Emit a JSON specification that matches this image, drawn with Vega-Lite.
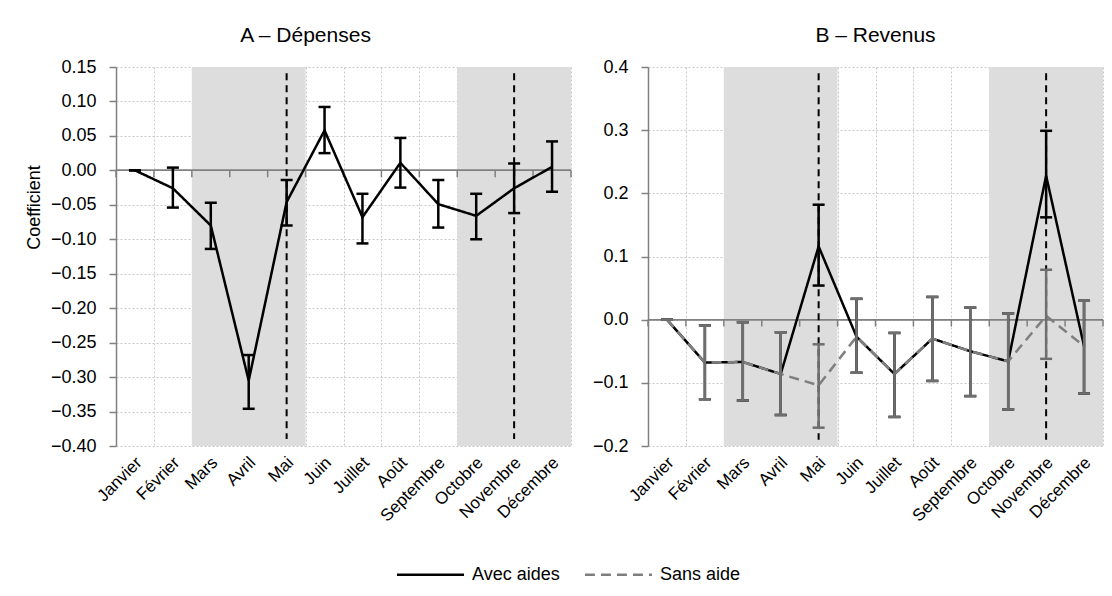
{
  "$schema": "https://vega.github.io/schema/vega-lite/v6.json",
  "padding": {"left": 25, "top": 25, "right": 0, "bottom": 0},
  "bounds": "flush",
  "spacing": 77,
  "config": {
    "font": "Liberation Sans",
    "view": {"stroke": null},
    "title": {"fontSize": 21, "fontWeight": "normal", "color": "#000", "frame": "group", "offset": 12}
  },
  "datasets": {
    "pts": [
      {"panel": "A", "m": 1, "series": "Avec aides", "v": 0, "lo": 0, "hi": 0},
      {"panel": "A", "m": 2, "series": "Avec aides", "v": -0.026, "lo": -0.054, "hi": 0.004},
      {"panel": "A", "m": 3, "series": "Avec aides", "v": -0.080, "lo": -0.114, "hi": -0.047},
      {"panel": "A", "m": 4, "series": "Avec aides", "v": -0.305, "lo": -0.346, "hi": -0.268},
      {"panel": "A", "m": 5, "series": "Avec aides", "v": -0.046, "lo": -0.080, "hi": -0.014},
      {"panel": "A", "m": 6, "series": "Avec aides", "v": 0.058, "lo": 0.025, "hi": 0.092},
      {"panel": "A", "m": 7, "series": "Avec aides", "v": -0.068, "lo": -0.106, "hi": -0.034},
      {"panel": "A", "m": 8, "series": "Avec aides", "v": 0.011, "lo": -0.025, "hi": 0.047},
      {"panel": "A", "m": 9, "series": "Avec aides", "v": -0.049, "lo": -0.083, "hi": -0.014},
      {"panel": "A", "m": 10, "series": "Avec aides", "v": -0.066, "lo": -0.100, "hi": -0.034},
      {"panel": "A", "m": 11, "series": "Avec aides", "v": -0.026, "lo": -0.062, "hi": 0.010},
      {"panel": "A", "m": 12, "series": "Avec aides", "v": 0.005, "lo": -0.031, "hi": 0.042},
      {"panel": "B", "m": 1, "series": "Avec aides", "v": 0, "lo": 0, "hi": 0},
      {"panel": "B", "m": 2, "series": "Avec aides", "v": -0.068, "lo": -0.126, "hi": -0.009},
      {"panel": "B", "m": 3, "series": "Avec aides", "v": -0.067, "lo": -0.128, "hi": -0.004},
      {"panel": "B", "m": 4, "series": "Avec aides", "v": -0.086, "lo": -0.151, "hi": -0.020},
      {"panel": "B", "m": 5, "series": "Avec aides", "v": 0.116, "lo": 0.054, "hi": 0.182},
      {"panel": "B", "m": 6, "series": "Avec aides", "v": -0.027, "lo": -0.084, "hi": 0.033},
      {"panel": "B", "m": 7, "series": "Avec aides", "v": -0.086, "lo": -0.154, "hi": -0.021},
      {"panel": "B", "m": 8, "series": "Avec aides", "v": -0.030, "lo": -0.097, "hi": 0.036},
      {"panel": "B", "m": 9, "series": "Avec aides", "v": -0.050, "lo": -0.121, "hi": 0.019},
      {"panel": "B", "m": 10, "series": "Avec aides", "v": -0.066, "lo": -0.142, "hi": 0.010},
      {"panel": "B", "m": 11, "series": "Avec aides", "v": 0.228, "lo": 0.162, "hi": 0.299},
      {"panel": "B", "m": 12, "series": "Avec aides", "v": -0.042, "lo": -0.117, "hi": 0.030},
      {"panel": "B", "m": 1, "series": "Sans aide", "v": 0, "lo": 0, "hi": 0},
      {"panel": "B", "m": 2, "series": "Sans aide", "v": -0.068, "lo": -0.126, "hi": -0.009},
      {"panel": "B", "m": 3, "series": "Sans aide", "v": -0.067, "lo": -0.128, "hi": -0.004},
      {"panel": "B", "m": 4, "series": "Sans aide", "v": -0.086, "lo": -0.151, "hi": -0.020},
      {"panel": "B", "m": 5, "series": "Sans aide", "v": -0.104, "lo": -0.171, "hi": -0.039},
      {"panel": "B", "m": 6, "series": "Sans aide", "v": -0.027, "lo": -0.084, "hi": 0.033},
      {"panel": "B", "m": 7, "series": "Sans aide", "v": -0.086, "lo": -0.154, "hi": -0.021},
      {"panel": "B", "m": 8, "series": "Sans aide", "v": -0.030, "lo": -0.097, "hi": 0.036},
      {"panel": "B", "m": 9, "series": "Sans aide", "v": -0.050, "lo": -0.121, "hi": 0.019},
      {"panel": "B", "m": 10, "series": "Sans aide", "v": -0.066, "lo": -0.142, "hi": 0.010},
      {"panel": "B", "m": 11, "series": "Sans aide", "v": 0.006, "lo": -0.062, "hi": 0.079},
      {"panel": "B", "m": 12, "series": "Sans aide", "v": -0.042, "lo": -0.117, "hi": 0.030}
    ],
    "shade": [{"s": 2.5, "e": 5.5}, {"s": 9.5, "e": 12.5}],
    "bounds": [{"x": 0.5}, {"x": 1.5}, {"x": 2.5}, {"x": 3.5}, {"x": 4.5}, {"x": 5.5}, {"x": 6.5}, {"x": 7.5}, {"x": 8.5}, {"x": 9.5}, {"x": 10.5}, {"x": 11.5}, {"x": 12.5}],
    "vlines": [{"x": 5}, {"x": 11}]
  },
  "hconcat": [
    {
      "width": 455,
      "height": 379,
      "title": {"text": "A – Dépenses", "dx": -38},
      "encoding": {
        "x": {
          "type": "quantitative",
          "scale": {"domain": [0.5, 12.5], "nice": false, "zero": false},
          "axis": {
            "values": [0.5, 1, 1.5, 2, 2.5, 3, 3.5, 4, 4.5, 5, 5.5, 6, 6.5, 7, 7.5, 8, 8.5, 9, 9.5, 10, 10.5, 11, 11.5, 12, 12.5],
            "labelExpr": "datum.value % 1 === 0 ? ['Janvier','Février','Mars','Avril','Mai','Juin','Juillet','Août','Septembre','Octobre','Novembre','Décembre'][datum.value - 1] : ''",
            "labelAngle": -45, "labelFontSize": 17, "labelColor": "#000", "labelOverlap": false, "labelFlush": false, "labelBound": false, "labelPadding": 8, "labelOffset": -2,
            "ticks": false, "domain": false, "title": null,
            "grid": true, "gridColor": "#c8c8c8", "gridDash": [2, 2], "gridWidth": 1,
            "gridOpacity": {"condition": {"test": "datum.value % 1 === 0", "value": 0}, "value": 1}
          }
        },
        "y": {
          "type": "quantitative",
          "scale": {"domain": [-0.4, 0.15], "nice": false, "zero": false},
          "axis": {
            "values": [-0.4, -0.35, -0.3, -0.25, -0.2, -0.15, -0.1, -0.05, 0, 0.05, 0.1, 0.15],
            "format": ".2f", "labelFontSize": 18, "labelColor": "#000", "labelPadding": 13,
            "tickSize": 7, "tickColor": "#808080", "tickWidth": 1.5, "domainColor": "#808080", "domainWidth": 1.5,
            "grid": true, "gridColor": "#c8c8c8", "gridDash": [2, 2], "gridWidth": 1,
            "title": "Coefficient", "titleFontSize": 18, "titleFontWeight": "normal", "titleColor": "#000", "titlePadding": 7, "titleY": 140
          }
        }
      },
      "layer": [
        {"data": {"name": "shade"}, "mark": {"type": "rect", "color": "#dddddd"}, "encoding": {"x": {"field": "s"}, "x2": {"field": "e"}}},
        {"data": {"name": "shade"}, "mark": {"type": "rule", "color": "#808080", "strokeWidth": 1.5}, "encoding": {"y": {"datum": 0}}},
        {"data": {"name": "bounds"}, "mark": {"type": "rule", "color": "#808080", "strokeWidth": 1.5}, "encoding": {"x": {"field": "x"}, "y": {"datum": 0}, "y2": {"datum": -0.010}}},
        {"data": {"name": "vlines"}, "mark": {"type": "rule", "color": "#000", "strokeWidth": 2, "strokeDash": [7, 5]}, "encoding": {"x": {"field": "x"}, "y": {"datum": 0.141}, "y2": {"datum": -0.39}}},
        {"data": {"name": "pts"}, "transform": [{"filter": "datum.panel === 'A'"}], "mark": {"type": "line", "strokeWidth": 2.5},
          "encoding": {"x": {"field": "m"}, "y": {"field": "v"},
            "color": {"field": "series", "type": "nominal", "scale": {"domain": ["Avec aides", "Sans aide"], "range": ["#000000", "#7f7f7f"]}, "legend": {"title": null, "orient": "none", "direction": "horizontal", "legendX": 302, "legendY": 495, "symbolType": "M-3,0H3", "symbolSize": 500, "symbolStrokeWidth": 2.5, "labelFontSize": 18, "labelColor": "#000", "labelOffset": 29, "columnPadding": 19}},
            "strokeDash": {"field": "series", "type": "nominal", "scale": {"domain": ["Avec aides", "Sans aide"], "range": [[1, 0], [10, 6]]}, "legend": {"title": null, "orient": "none", "direction": "horizontal", "legendX": 302, "legendY": 495, "symbolType": "M-3,0H3", "symbolSize": 500, "symbolStrokeWidth": 2.5, "labelFontSize": 18, "labelColor": "#000", "labelOffset": 29, "columnPadding": 19}}}},
        {"data": {"name": "pts"}, "transform": [{"filter": "datum.panel === 'A'"}], "mark": {"type": "rule", "color": "#000", "strokeWidth": 2.5},
          "encoding": {"x": {"field": "m"}, "y": {"field": "lo"}, "y2": {"field": "hi"}}},
        {"data": {"name": "pts"}, "transform": [{"filter": "datum.panel === 'A'"}], "mark": {"type": "tick", "orient": "horizontal", "color": "#000", "size": 12, "thickness": 2.5, "opacity": 1},
          "encoding": {"x": {"field": "m"}, "y": {"field": "lo"}}},
        {"data": {"name": "pts"}, "transform": [{"filter": "datum.panel === 'A'"}], "mark": {"type": "tick", "orient": "horizontal", "color": "#000", "size": 12, "thickness": 2.5, "opacity": 1},
          "encoding": {"x": {"field": "m"}, "y": {"field": "hi"}}}
      ]
    },
    {
      "width": 455,
      "height": 379,
      "title": {"text": "B – Revenus"},
      "encoding": {
        "x": {
          "type": "quantitative",
          "scale": {"domain": [0.5, 12.5], "nice": false, "zero": false},
          "axis": {
            "values": [0.5, 1, 1.5, 2, 2.5, 3, 3.5, 4, 4.5, 5, 5.5, 6, 6.5, 7, 7.5, 8, 8.5, 9, 9.5, 10, 10.5, 11, 11.5, 12, 12.5],
            "labelExpr": "datum.value % 1 === 0 ? ['Janvier','Février','Mars','Avril','Mai','Juin','Juillet','Août','Septembre','Octobre','Novembre','Décembre'][datum.value - 1] : ''",
            "labelAngle": -45, "labelFontSize": 17, "labelColor": "#000", "labelOverlap": false, "labelFlush": false, "labelBound": false, "labelPadding": 8, "labelOffset": -2,
            "ticks": false, "domain": false, "title": null,
            "grid": true, "gridColor": "#c8c8c8", "gridDash": [2, 2], "gridWidth": 1,
            "gridOpacity": {"condition": {"test": "datum.value % 1 === 0", "value": 0}, "value": 1}
          }
        },
        "y": {
          "type": "quantitative",
          "scale": {"domain": [-0.2, 0.4], "nice": false, "zero": false},
          "axis": {
            "values": [-0.2, -0.1, 0, 0.1, 0.2, 0.3, 0.4],
            "format": ".1f", "labelFontSize": 18, "labelColor": "#000", "labelPadding": 13,
            "tickSize": 7, "tickColor": "#808080", "tickWidth": 1.5, "domainColor": "#808080", "domainWidth": 1.5,
            "grid": true, "gridColor": "#c8c8c8", "gridDash": [2, 2], "gridWidth": 1,
            "title": null
          }
        }
      },
      "layer": [
        {"data": {"name": "shade"}, "mark": {"type": "rect", "color": "#dddddd"}, "encoding": {"x": {"field": "s"}, "x2": {"field": "e"}}},
        {"data": {"name": "shade"}, "mark": {"type": "rule", "color": "#808080", "strokeWidth": 1.5}, "encoding": {"y": {"datum": 0}}},
        {"data": {"name": "bounds"}, "mark": {"type": "rule", "color": "#808080", "strokeWidth": 1.5}, "encoding": {"x": {"field": "x"}, "y": {"datum": 0}, "y2": {"datum": -0.011}}},
        {"data": {"name": "vlines"}, "mark": {"type": "rule", "color": "#000", "strokeWidth": 2, "strokeDash": [7, 5]}, "encoding": {"x": {"field": "x"}, "y": {"datum": 0.39}, "y2": {"datum": -0.19}}},
        {"data": {"name": "pts"}, "transform": [{"filter": "datum.panel === 'B' && datum.series === 'Avec aides'"}], "mark": {"type": "line", "strokeWidth": 2.5},
          "encoding": {"x": {"field": "m"}, "y": {"field": "v"},
            "color": {"field": "series", "type": "nominal"},
            "strokeDash": {"field": "series", "type": "nominal"}}},
        {"data": {"name": "pts"}, "transform": [{"filter": "datum.panel === 'B' && datum.series === 'Avec aides'"}], "mark": {"type": "rule", "color": "#000", "strokeWidth": 2.5},
          "encoding": {"x": {"field": "m"}, "y": {"field": "lo"}, "y2": {"field": "hi"}}},
        {"data": {"name": "pts"}, "transform": [{"filter": "datum.panel === 'B' && datum.series === 'Avec aides'"}], "mark": {"type": "tick", "orient": "horizontal", "color": "#000", "size": 12, "thickness": 2.5, "opacity": 1},
          "encoding": {"x": {"field": "m"}, "y": {"field": "lo"}}},
        {"data": {"name": "pts"}, "transform": [{"filter": "datum.panel === 'B' && datum.series === 'Avec aides'"}], "mark": {"type": "tick", "orient": "horizontal", "color": "#000", "size": 12, "thickness": 2.5, "opacity": 1},
          "encoding": {"x": {"field": "m"}, "y": {"field": "hi"}}},
        {"data": {"name": "pts"}, "transform": [{"filter": "datum.panel === 'B' && datum.series === 'Sans aide'"}], "mark": {"type": "line", "strokeWidth": 2.5},
          "encoding": {"x": {"field": "m"}, "y": {"field": "v"},
            "color": {"field": "series", "type": "nominal"},
            "strokeDash": {"field": "series", "type": "nominal"}}},
        {"data": {"name": "pts"}, "transform": [{"filter": "datum.panel === 'B' && datum.series === 'Sans aide'"}], "mark": {"type": "rule", "color": "#6e6e6e", "strokeWidth": 2.5},
          "encoding": {"x": {"field": "m"}, "y": {"field": "lo"}, "y2": {"field": "hi"}}},
        {"data": {"name": "pts"}, "transform": [{"filter": "datum.panel === 'B' && datum.series === 'Sans aide'"}], "mark": {"type": "tick", "orient": "horizontal", "color": "#6e6e6e", "size": 12, "thickness": 2.5, "opacity": 1},
          "encoding": {"x": {"field": "m"}, "y": {"field": "lo"}}},
        {"data": {"name": "pts"}, "transform": [{"filter": "datum.panel === 'B' && datum.series === 'Sans aide'"}], "mark": {"type": "tick", "orient": "horizontal", "color": "#6e6e6e", "size": 12, "thickness": 2.5, "opacity": 1},
          "encoding": {"x": {"field": "m"}, "y": {"field": "hi"}}}
      ]
    }
  ]
}
